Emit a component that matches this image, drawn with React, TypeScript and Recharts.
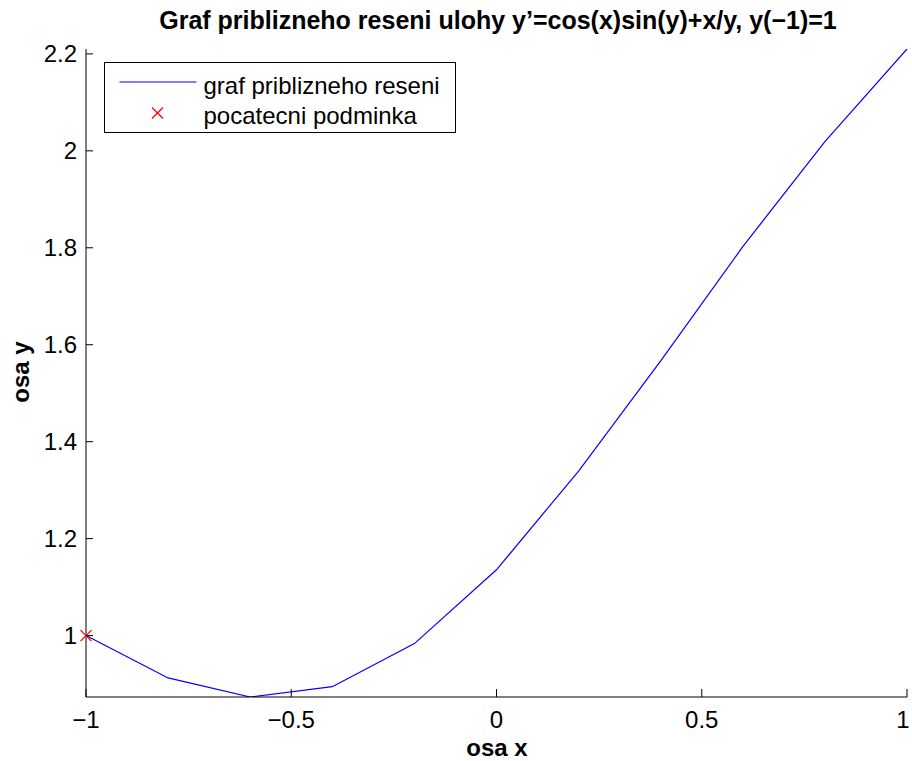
import React from 'react';
import { ComposedChart, Line, Scatter, XAxis, YAxis } from 'recharts';

const xValues = [-1, -0.8, -0.6, -0.4, -0.2, 0, 0.2, 0.4, 0.6, 0.8, 1];
const yValues = [1.0, 0.9126, 0.8733, 0.8946, 0.9835, 1.1357, 1.3395, 1.5665, 1.8023, 2.0192, 2.2101];
const initialX = [-1];
const initialY = [1];
const xTicks = [-1, -0.5, 0, 0.5, 1];
const yTicks = [1, 1.2, 1.4, 1.6, 1.8, 2, 2.2];
const seriesName = 'graf priblizneho reseni';
const markerName = 'pocatecni podminka';
const titleText = 'Graf priblizneho reseni ulohy y\u2019=cos(x)sin(y)+x/y, y(\u22121)=1';
const xLabel = 'osa x';
const yLabel = 'osa y';

const lineData = xValues.map((x, i) => ({ x, y: yValues[i] }));
const initData = initialX.map((x, i) => ({ x, y: initialY[i] }));

const FONT = '"Liberation Sans", Arial, Helvetica, sans-serif';
const TICK_FS = 24;
const fmt = (v: number) => String(v).replace('-', '\u2212');

const XTick = (props: any) => {
  const { x, y, payload } = props;
  const tx = x > 900 ? x - 4 : x;
  return (
    <g>
      <line x1={x} y1={y} x2={x} y2={y - 8} stroke="#000" strokeWidth={1} />
      <text x={tx} y={y + 31} textAnchor="middle" fontSize={TICK_FS} fontFamily={FONT} fill="#000">
        {fmt(payload.value)}
      </text>
    </g>
  );
};

const YTick = (props: any) => {
  const { x, y, payload } = props;
  return (
    <g>
      <line x1={x} y1={y} x2={x + 7} y2={y} stroke="#000" strokeWidth={1} />
      <text x={x - 9} y={y + 8.5} textAnchor="end" fontSize={TICK_FS} fontFamily={FONT} fill="#000">
        {fmt(payload.value)}
      </text>
    </g>
  );
};

const Cross = (props: any) => {
  const { cx, cy } = props;
  const s = 5.5;
  return (
    <g>
      <line x1={cx - s} y1={cy - s} x2={cx + s} y2={cy + s} stroke="#ff0000" strokeWidth={1.2} />
      <line x1={cx - s} y1={cy + s} x2={cx + s} y2={cy - s} stroke="#ff0000" strokeWidth={1.2} />
    </g>
  );
};

const yMin = Math.min(...yValues);
const yMax = Math.max(...yValues);

export default function App() {
  return (
    <div style={{ position: 'absolute', left: 0, top: 0, width: 912, height: 761, background: '#fff' }}>
      <ComposedChart
        width={912}
        height={761}
        data={lineData}
        margin={{ top: 49, right: 5, bottom: 0, left: 0 }}
      >
        <XAxis
          type="number"
          dataKey="x"
          domain={[-1, 1]}
          ticks={xTicks}
          interval={0}
          tickSize={0}
          tickMargin={0}
          tickLine={false}
          tick={<XTick />}
          height={64}
          axisLine={{ stroke: '#000', strokeWidth: 1 }}
        />
        <YAxis
          type="number"
          domain={[yMin, yMax]}
          ticks={yTicks}
          interval={0}
          tickSize={0}
          tickMargin={0}
          tickLine={false}
          tick={<YTick />}
          width={86}
          allowDataOverflow
          axisLine={{ stroke: '#000', strokeWidth: 1 }}
        />
        <Line
          type="linear"
          dataKey="y"
          stroke="#0000ff"
          strokeWidth={1.2}
          dot={false}
          isAnimationActive={false}
        />
        <Scatter data={initData} dataKey="y" shape={<Cross />} isAnimationActive={false} />
      </ComposedChart>
      <svg
        width={912}
        height={761}
        style={{ position: 'absolute', left: 0, top: 0, pointerEvents: 'none' }}
      >
        <text x={498} y={29} textAnchor="middle" fontSize={25} fontWeight="bold" fontFamily={FONT} fill="#000">
          {titleText}
        </text>
        <text x={497} y={756} textAnchor="middle" fontSize={24} fontWeight="bold" fontFamily={FONT} fill="#000">
          {xLabel}
        </text>
        <text
          x={29}
          y={372}
          textAnchor="middle"
          fontSize={24}
          fontWeight="bold"
          fontFamily={FONT}
          fill="#000"
          transform="rotate(-90 29 372)"
        >
          {yLabel}
        </text>
        <g transform="translate(104.5,62.5)">
          <rect x={0} y={0} width={351} height={70} fill="#fff" stroke="#000" strokeWidth={1} />
          <line x1={15} y1={19.5} x2={92} y2={19.5} stroke="#0000ff" strokeWidth={1.2} />
          <text x={99} y={31} fontSize={TICK_FS} fontFamily={FONT} fill="#000">{seriesName}</text>
          <line x1={47.5} y1={45} x2={58.5} y2={56} stroke="#ff0000" strokeWidth={1.2} />
          <line x1={47.5} y1={56} x2={58.5} y2={45} stroke="#ff0000" strokeWidth={1.2} />
          <text x={99} y={61} fontSize={TICK_FS} fontFamily={FONT} fill="#000">{markerName}</text>
        </g>
      </svg>
    </div>
  );
}
